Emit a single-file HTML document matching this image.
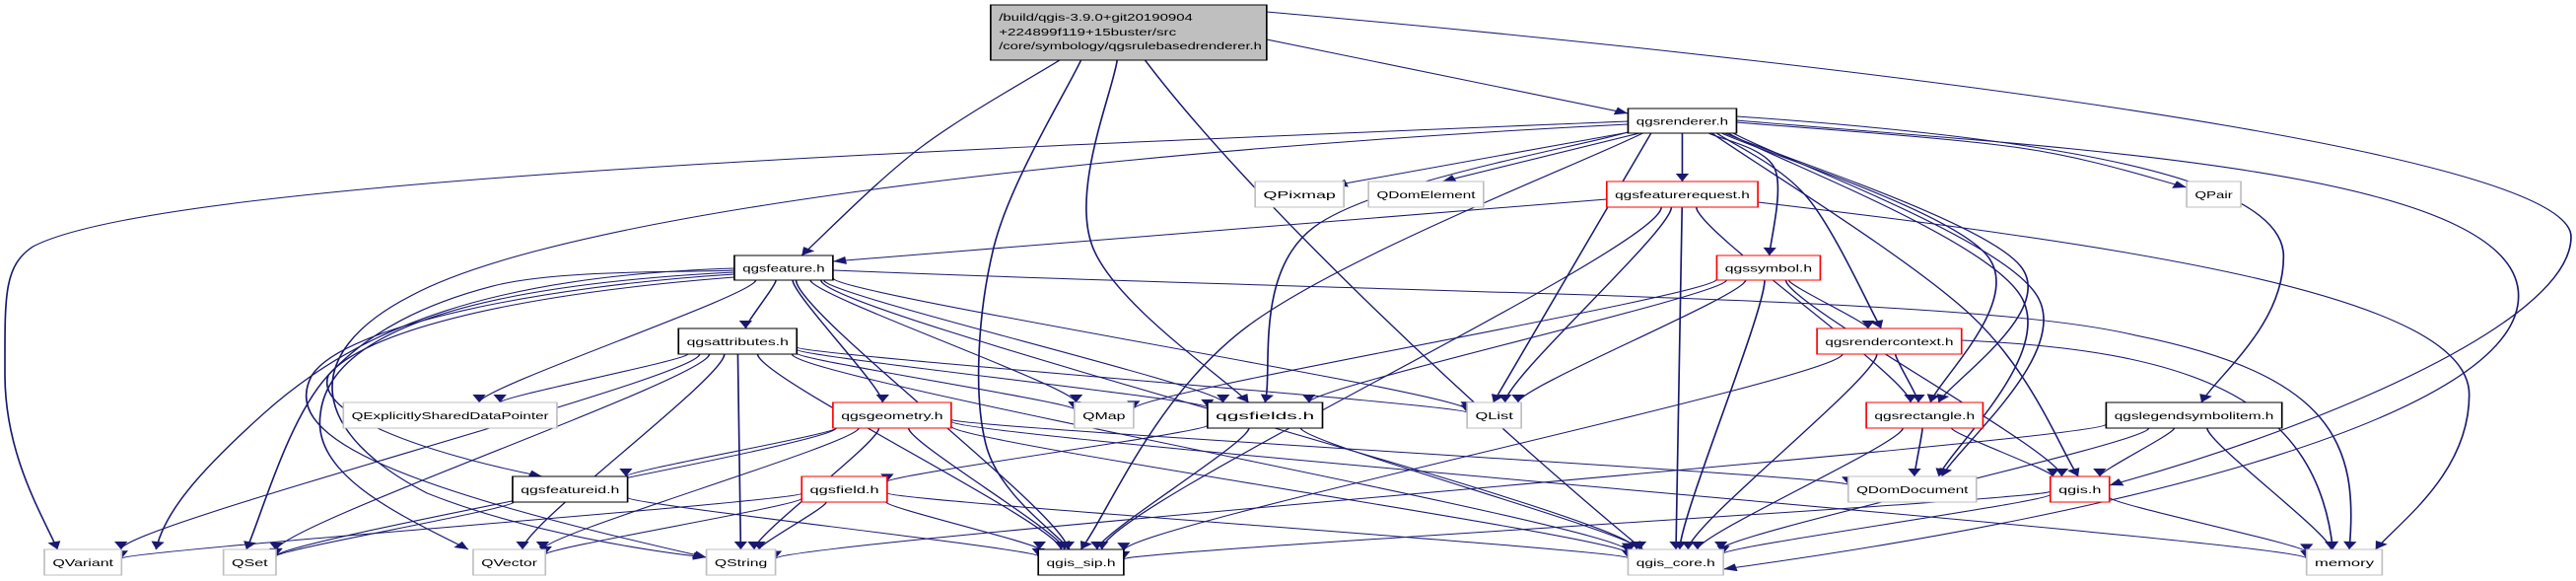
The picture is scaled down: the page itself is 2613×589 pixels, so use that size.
<!DOCTYPE html>
<html><head><meta charset="utf-8"><style>
html,body{margin:0;padding:0;background:#fff;overflow:hidden}
svg{display:block}
text{font-family:"Liberation Sans",sans-serif;font-size:10.5px;fill:#000}
</style></head><body>
<svg id="s" width="2613" height="589" viewBox="0 0 1568 589" preserveAspectRatio="none" xmlns="http://www.w3.org/2000/svg">
<defs><marker id="a" viewBox="0 0 10 10" refX="10" refY="5" markerWidth="10" markerHeight="8" markerUnits="userSpaceOnUse" orient="auto"><path d="M0,0 L10,5 L0,10 z" fill="#191970"/></marker></defs>
<g id="E" fill="none" stroke="#191970" stroke-width="1"></g>
<g id="N"></g>
</svg>
<script>
var N={
main:[603,5,168,56,'','m'],
feat:[447,259,60,25,'qgsfeature.h','b'],
rend:[991,110,66,25,'qgsrenderer.h','b'],
QPixmap:[764,184,54,26,'QPixmap','g'],
QDomElement:[833,184,70,26,'QDomElement','g'],
freq:[978,184,92,26,'qgsfeaturerequest.h','r'],
QPair:[1331,184,33,26,'QPair','g'],
sym:[1045,259,63,25,'qgssymbol.h','r'],
attr:[413,333,72,26,'qgsattributes.h','b'],
QESDP:[209,408,130,26,'QExplicitlySharedDataPointer','g'],
geom:[507,408,72,26,'qgsgeometry.h','r'],
QMap:[654,408,36,26,'QMap','g'],
fields:[735,408,70,26,'qgsfields.h','b'],
QList:[893,408,33,26,'QList','g'],
rctx:[1106,333,88,26,'qgsrendercontext.h','r'],
rect:[1136,408,71,26,'qgsrectangle.h','r'],
leg:[1282,408,107,26,'qgslegendsymbolitem.h','b'],
fid:[312,483,70,26,'qgsfeatureid.h','b'],
field:[488,483,52,26,'qgsfield.h','r'],
QDomDoc:[1125,483,78,26,'QDomDocument','g'],
qgis:[1248,483,36,26,'qgis.h','r'],
QVariant:[27,557,47,26,'QVariant','g'],
QSet:[136,557,32,26,'QSet','g'],
QVector:[288,557,44,26,'QVector','g'],
QString:[430,557,42,26,'QString','g'],
sip:[632,557,52,26,'qgis_sip.h','b'],
core:[991,557,58,26,'qgis_core.h','g'],
memory:[1404,557,46,26,'memory','g']
};
var C=[
[[645,61],[560,150],[488,259]],
[[658,61],[605,250],[600,450],[651,557]],
[[680,61],[665,250],[760,408]],
'M697,61 C760,200 900,420 1000,557',
[[771,40],[991,115]],
'M771,12 C1100,60 1565,150 1565,240 C1565,330 1400,440 1284,492',
'M991,123 C600,150 100,180 20,250 C2,270 3,300 3,380 C3,460 25,520 35,557',
'M991,126 C700,150 350,210 250,300 C180,360 190,440 260,500 C320,540 400,560 430,565',
[[1000,135],[760,330],[658,557]],
[[993,133],[800,230],[770,408]],
[[1005,135],[909,408]],
'M1057,122 C1250,150 1533,170 1533,300 C1533,420 1300,520 1049,577',
'M1057,118 C1250,140 1390,180 1390,260 C1390,330 1350,380 1340,408',
[[1042,135],[1200,320],[1265,483]],
[[1052,135],[1230,300],[1180,483]],
[[1048,135],[1210,260],[1175,408]],
[[1050,135],[1230,270],[1180,408]],
[[1057,124],[1230,150],[1331,190]],
[[995,133],[812,188]],
[[998,135],[878,184]],
[[1024,135],[1024,184]],
[[1040,135],[1080,170],[1077,259]],
[[1045,135],[1100,200],[1145,333]],
[[1055,135],[1240,300],[1182,483]],
[[978,202],[507,265]],
'M1070,205 C1300,250 1503,300 1503,400 C1503,480 1460,530 1446,557',
'M507,274 C900,300 1200,300 1300,340 C1420,380 1436,450 1430,557',
'M447,272 C300,280 220,330 160,420 C120,480 100,520 95,557',
[[447,274],[300,290],[200,380],[150,557]],
'M447,276 C280,290 200,340 195,420 C190,480 240,520 285,557',
'M447,278 C330,290 210,330 190,380 C170,440 230,490 430,565',
'M447,281 C300,300 220,340 200,380 C190,420 260,460 330,483',
'M1194,345 C1330,355 1410,400 1420,557'
];
var G=[
['feat','attr'],['feat','QESDP'],['feat','geom'],['feat','QMap'],['feat','fields'],['feat','sip'],['feat','QList'],['feat','core'],
['attr','QVariant'],['attr','QSet'],['attr','QVector'],['attr','QString'],['attr','QESDP'],['attr','QMap'],['attr','fields'],['attr','QList'],['attr','sip'],['attr','core'],
['geom','fid'],['geom','QSet'],['geom','QVector'],['geom','QString'],['geom','sip'],['geom','core'],['geom','QDomDoc'],['geom','memory'],
['fields','field'],['fields','sip'],['fields','core'],
['field','QVariant'],['field','QVector'],['field','QString'],['field','sip'],['field','core'],
['fid','QSet'],['fid','sip'],
['sym','QMap'],['sym','fields'],['sym','QList'],['sym','core'],['sym','rctx'],['sym','qgis'],
['freq','QList'],['freq','sip'],['freq','core'],['freq','rect'],
['rctx','rect'],['rctx','sip'],['rctx','core'],
['rect','QDomDoc'],['rect','qgis'],['rect','core'],
['leg','qgis'],['leg','core'],['leg','memory'],['leg','QString'],
['qgis','sip'],['qgis','core'],['qgis','memory']
];
function cr(p){var d='M'+p[0][0]+','+p[0][1];if(p.length==2)return d+' L'+p[1][0]+','+p[1][1];
for(var i=0;i<p.length-1;i++){var p0=p[i-1]||p[i],p1=p[i],p2=p[i+1],p3=p[i+2]||p2;
d+=' C'+(p1[0]+(p2[0]-p0[0])/6)+','+(p1[1]+(p2[1]-p0[1])/6)+' '+(p2[0]-(p3[0]-p1[0])/6)+','+(p2[1]-(p3[1]-p1[1])/6)+' '+p2[0]+','+p2[1];}return d;}
function bp(n,tx,ty){var cx=n[0]+n[2]/2,cy=n[1]+n[3]/2,dx=tx-cx,dy=ty-cy;
var sx=dx?(n[2]/2)/Math.abs(dx):1e9,sy=dy?(n[3]/2)/Math.abs(dy):1e9,s=Math.min(sx,sy);return [cx+dx*s,cy+dy*s];}
var E=document.getElementById('E'),NS='http://www.w3.org/2000/svg';
function add(d){var p=document.createElementNS(NS,'path');p.setAttribute('d',d);p.setAttribute('marker-end','url(#a)');E.appendChild(p);}
C.forEach(function(c){add(typeof c=='string'?c:cr(c));});
G.forEach(function(g){var a=N[g[0]],b=N[g[1]];var ac=[a[0]+a[2]/2,a[1]+a[3]/2],bc=[b[0]+b[2]/2,b[1]+b[3]/2];
var s=bp(a,bc[0],bc[1]),t=bp(b,ac[0],ac[1]);var dy=(t[1]-s[1])*0.4;
add('M'+s[0]+','+s[1]+' C'+s[0]+','+(s[1]+dy*0.3)+' '+t[0]+','+(t[1]-dy*0.3)+' '+t[0]+','+t[1]);});
var NG=document.getElementById('N');
function tx(x,y,s,w,mid){var t=document.createElementNS(NS,'text');t.setAttribute('x',x);t.setAttribute('y',y);
if(mid)t.setAttribute('text-anchor','middle');t.setAttribute('textLength',w);t.setAttribute('lengthAdjust','spacingAndGlyphs');t.textContent=s;NG.appendChild(t);}
for(var k in N){var n=N[k];var r=document.createElementNS(NS,'rect');
r.setAttribute('x',n[0]);r.setAttribute('y',n[1]);r.setAttribute('width',n[2]);r.setAttribute('height',n[3]);
var st=n[5];r.setAttribute('fill',st=='m'?'#bfbfbf':'#fff');
r.setAttribute('stroke',st=='r'?'#ff0000':st=='g'?'#bfbfbf':'#000');r.setAttribute('stroke-width','1');NG.appendChild(r);
if(st=='m'){tx(n[0]+5,n[1]+16,'/build/qgis-3.9.0+git20190904',118);tx(n[0]+5,n[1]+31,'+224899f119+15buster/src',108);tx(n[0]+5,n[1]+45,'/core/symbology/qgsrulebasedrenderer.h',160);}
else tx(n[0]+n[2]/2,n[1]+n[3]/2+4,n[4],n[2]-10,true);}
</script>
</body></html>
